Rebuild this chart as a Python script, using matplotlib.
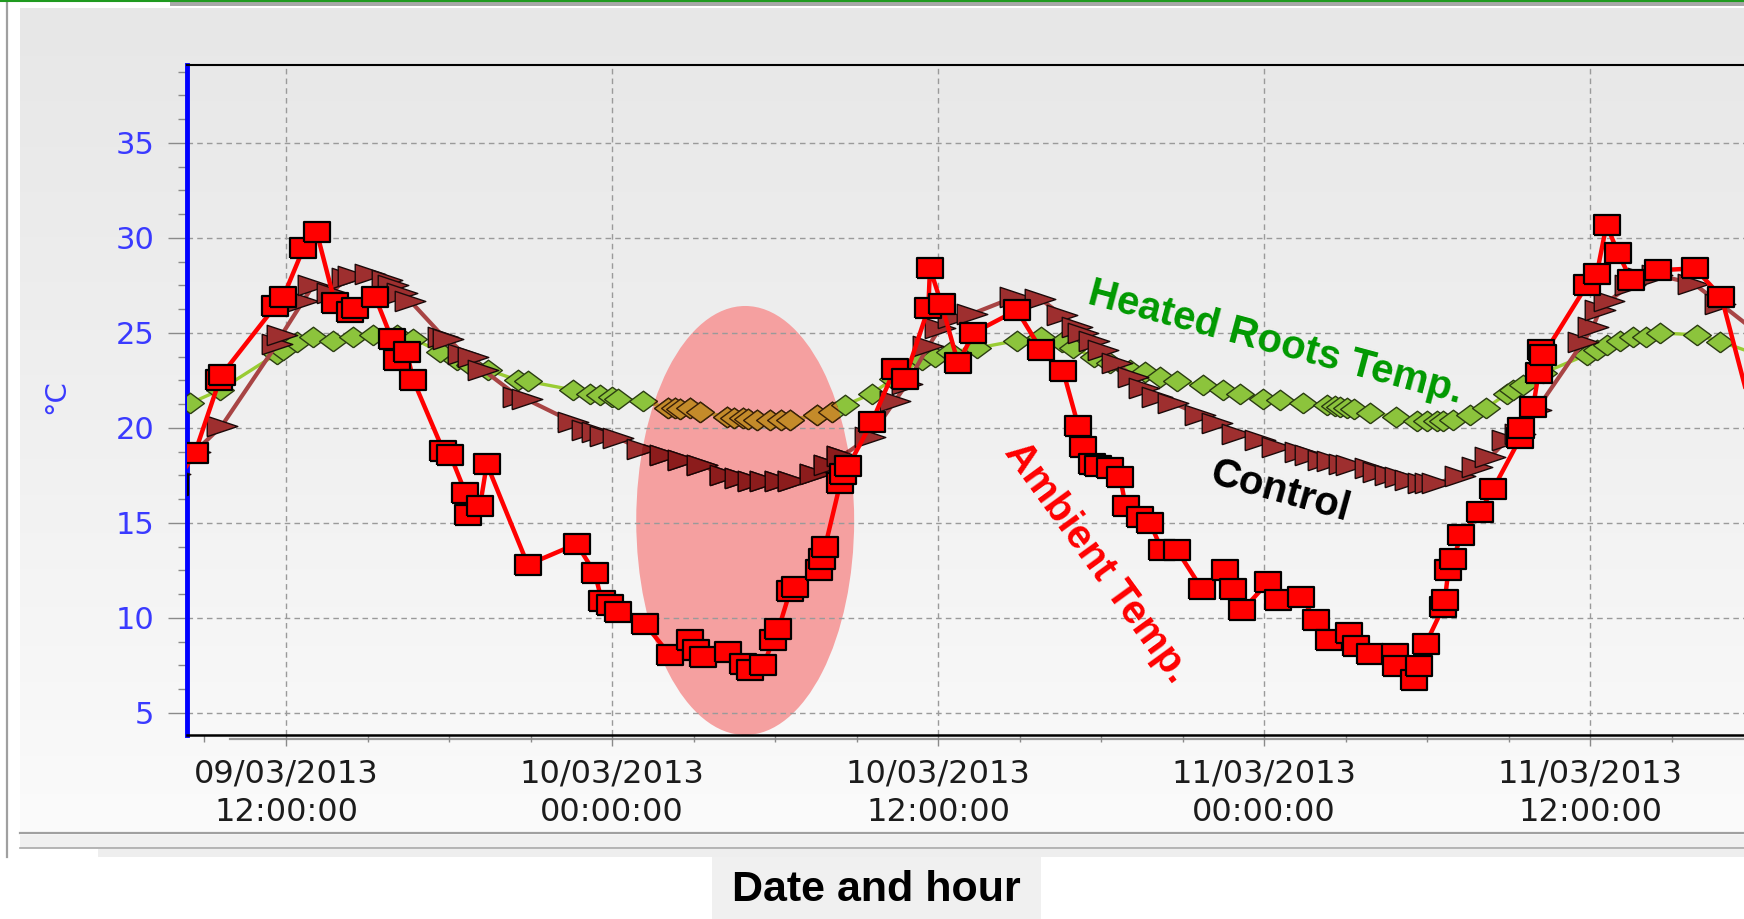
import numpy as np
import matplotlib
matplotlib.use("Agg")
import matplotlib.pyplot as plt
import matplotlib.dates as mdates
from matplotlib.patches import Ellipse, Rectangle
from matplotlib.ticker import MultipleLocator
from matplotlib.lines import Line2D
from matplotlib.colors import LinearSegmentedColormap
from matplotlib import font_manager

# ---------------- data (hours after 09/03/2013 12:00:00, °C) ----------------
amb_hours = [-4.1, -3.35, -2.45, -2.37, -0.4, -0.1, 0.64, 1.13, 1.8, 2.36, 2.54, 3.28,
             3.89, 4.07, 4.44, 4.69, 5.79, 6.04, 6.6, 6.7, 7.14, 7.39, 8.9, 10.7,
             11.37, 11.62, 11.92, 12.23, 13.2, 14.13, 14.87, 15.1, 15.36, 16.28, 16.83,
             17.08, 17.57, 17.93, 18.12, 18.55, 18.73, 19.6, 19.71, 19.84, 20.4, 20.5,
             20.7, 21.56, 22.4, 22.78, 23.64, 23.7, 24.13, 24.74, 25.3, 26.9, 27.8,
             28.6, 29.16, 29.35, 29.65, 29.9, 30.33, 30.7, 30.9, 31.43, 31.8, 32.23,
             32.78, 33.7, 34.57, 34.87, 35.2, 36.15, 36.5, 37.36, 37.9, 38.4, 39.14,
             39.38, 39.9, 40.8, 40.87, 41.5, 41.7, 41.95, 42.6, 42.65, 42.78, 42.95,
             43.26, 43.94, 44.43, 45.42, 45.47, 45.9, 46.1, 46.2, 46.28, 47.87, 48.24,
             48.6, 49.03, 49.5, 50.5, 51.85, 52.83, 55.2]
amb_temp = [17.0, 18.7, 22.5, 22.8, 26.4, 26.9, 29.45, 30.3, 26.6, 26.1, 26.3, 26.9,
            24.7, 23.6, 24.0, 22.5, 18.8, 18.6, 16.6, 15.4, 15.9, 18.1, 12.8, 13.9,
            12.35, 10.9, 10.7, 10.3, 9.7, 8.05, 8.85, 8.3, 7.96, 8.2, 7.6,
            7.26, 7.5, 8.85, 9.4, 11.4, 11.65, 12.5, 13.1, 13.75, 17.1, 17.6,
            18.0, 20.3, 23.1, 22.6, 26.3, 28.4, 26.5, 23.4, 25.0, 26.2, 24.1,
            23.0, 20.1, 19.0, 18.1, 18.0, 17.9, 17.4, 15.9, 15.3, 15.0, 13.6,
            13.6, 11.55, 12.5, 11.5, 10.4, 11.9, 10.95, 11.1, 9.9, 8.85, 9.2,
            8.5, 8.1, 8.1, 7.45, 6.75, 7.45, 8.65, 10.6, 10.95, 12.5, 13.1,
            14.35, 15.6, 16.8, 19.45, 20.0, 21.1, 22.9, 24.1, 23.85, 27.5, 28.1,
            30.7, 29.2, 27.8, 28.3, 28.4, 26.9, 14.0]

ctl_hours = [-4.1, -3.35, -2.37, -0.34, -0.16, 0.64, 1.0, 1.68, 2.23, 2.48, 3.1, 3.7,
             3.95, 4.26, 4.56, 5.79, 5.97, 6.53, 6.9, 7.26, 8.55, 8.86, 10.57, 11.07,
             11.44, 11.74, 12.23, 13.09, 13.95, 14.62, 15.3, 16.16, 16.7, 17.2, 17.63,
             18.18, 18.67, 19.47, 20.0, 20.45, 21.5, 22.4, 22.84, 23.64, 24.07, 24.56,
             25.24, 26.83, 27.75, 28.55, 29.1, 29.35, 29.72, 30.08, 30.57, 31.19,
             31.56, 32.05, 32.66, 33.64, 34.25, 34.99, 35.85, 36.46, 37.32, 37.7,
             38.18, 38.5, 38.92, 39.2, 39.9, 40.2, 40.63, 41.0, 41.37, 41.86, 42.1,
             42.35, 43.2, 43.82, 44.31, 44.92, 45.4, 46.02, 47.75, 48.1, 48.35, 48.7,
             49.45, 49.96, 50.45, 51.8, 52.78, 55.5]
ctl_temp = [17.6, 18.75, 20.1, 24.4, 24.9, 26.7, 27.5, 27.1, 27.9, 28.0, 28.1, 27.8,
            27.5, 27.1, 26.7, 24.8, 24.7, 23.9, 23.75, 23.05, 21.65, 21.5, 20.3, 19.9,
            19.8, 19.6, 19.45, 18.9, 18.6, 18.3, 18.05, 17.5, 17.35, 17.2, 17.2,
            17.2, 17.2, 17.6, 18.05, 18.5, 19.55, 21.4, 22.3, 24.3, 25.25, 25.8,
            26.0, 26.9, 26.8, 25.95, 25.3, 25.0, 24.6, 24.1, 23.4, 22.7,
            22.1, 21.65, 21.3, 20.7, 20.25, 19.7, 19.35, 19.0, 18.75, 18.6,
            18.3, 18.25, 18.1, 18.05, 17.9, 17.7, 17.5, 17.4, 17.25, 17.1, 17.1,
            17.1, 17.45, 17.95, 18.45, 19.35, 19.7, 20.95, 24.55, 25.3, 26.2, 26.7,
            27.5, 27.9, 28.05, 27.6, 26.55, 23.5]

hot_hours = [-3.53, -2.43, -0.34, -0.1, 0.39, 1.0, 1.74, 2.48, 3.21, 4.07, 4.69, 5.67,
             6.28, 6.77, 7.45, 8.55, 8.92, 10.57, 11.19, 11.56, 11.99, 12.23, 13.15,
             14.07, 14.3, 14.5, 14.87, 15.24, 16.22, 16.5, 16.83, 17.0, 17.32, 17.81,
             18.2, 18.55, 19.53, 20.08, 20.57, 21.56, 22.35, 23.4, 23.89, 24.44, 25.42,
             26.9, 27.8, 28.55, 28.98, 29.72, 30.33, 31.06, 31.62, 32.17, 32.78, 33.75,
             34.5, 35.11, 35.97, 36.58, 37.44, 38.3, 38.6, 38.8, 39.04, 39.3, 39.9,
             40.87, 41.61, 42.0, 42.35, 42.6, 42.95, 43.57, 44.18, 44.92, 45.17, 45.54,
             46.28, 47.87, 48.24, 48.6, 49.09, 49.58, 50.07, 50.57, 51.92, 52.78, 55.5]
hot_temp = [21.3, 22.0, 23.9, 24.1, 24.55, 24.8, 24.6, 24.8, 24.9, 24.9, 24.7, 24.0,
            23.6, 23.3, 23.05, 22.5, 22.45, 22.0, 21.8, 21.75, 21.65, 21.55, 21.4,
            21.05, 21.05, 21.0, 21.05, 20.85, 20.6, 20.55, 20.5, 20.45, 20.4, 20.4,
            20.4, 20.4, 20.7, 20.85, 21.2, 21.8, 22.6, 23.6, 23.75, 24.0, 24.2,
            24.6, 24.8, 24.55, 24.2, 23.75, 23.4, 23.05, 22.95, 22.7, 22.45, 22.25,
            22.0, 21.8, 21.55, 21.45, 21.3, 21.2, 21.15, 21.1, 21.05, 21.0, 20.8,
            20.6, 20.35, 20.35, 20.35, 20.35, 20.4, 20.7, 21.05, 21.8, 22.0, 22.25,
            22.9, 23.85, 24.1, 24.35, 24.6, 24.8, 24.8, 25.0, 24.9, 24.55, 23.2]

y_ticks = [5, 10, 15, 20, 25, 30, 35]
series_labels = ["Heated Roots Temp.", "Control", "Ambient Temp."]
x_title = "Date and hour"
y_title = "°C"

# ---------------- helpers ----------------
W, H, DPI = 1744, 919, 100
BASE = np.datetime64("2013-03-09T12:00")


def to_dt(hours):
    return BASE + np.round(np.asarray(hours, dtype=float) * 3600).astype("timedelta64[s]")


def fx(x):
    return x / W


def fy(y):
    return 1 - y / H


fig = plt.figure(figsize=(W / DPI, H / DPI), dpi=DPI)
fig.patch.set_facecolor("white")

# panel gradient background
bg = fig.add_axes([fx(20), fy(833), fx(1744) - fx(20), fy(8) - fy(833)], zorder=0)
cmap = LinearSegmentedColormap.from_list("g", ["#e7e7e7", "#f0f0f0", "#fbfbfb"])
bg.imshow(np.linspace(0, 1, 256).reshape(-1, 1), aspect="auto", cmap=cmap,
          extent=[0, 1, 0, 1], origin="upper")
bg.axis("off")

ax = fig.add_axes([fx(187), fy(735), 1 - fx(187), fy(64.5) - fy(735)], zorder=2)
ax.set_facecolor("none")

# marker shapes (wide, as in the reference)
sq = [(-1.35, -1), (1.35, -1), (1.35, 1), (-1.35, 1), (-1.35, -1)]
tri = [(-1.5, -1), (1.5, 0), (-1.5, 1), (-1.5, -1)]
dia = [(0, -0.74), (1, 0), (0, 0.74), (-1, 0), (0, -0.74)]

# highlight ellipse
ell = Ellipse((mdates.date2num(to_dt(16.9)), 15.13), width=8.02 / 24, height=22.58,
              facecolor="#f5a0a0", edgecolor="none", zorder=1)
ax.add_patch(ell)

hx, cx, axh = to_dt(hot_hours), to_dt(ctl_hours), to_dt(amb_hours)

ax.plot(hx, hot_temp, color="#99cc33", lw=2.4, marker=dia, ms=20,
        mfc="#8cc43c", mec="#2b3d12", mew=1.0, zorder=3)
l2, = ax.plot(hx, hot_temp, color="#c28a30", lw=2.4, marker=dia, ms=20,
              mfc="#c48b2a", mec="#3a2008", mew=1.0, zorder=3.1)
l2.set_clip_path(ell)

ax.plot(cx, ctl_temp, color="#a84444", lw=3.0, marker=tri, ms=22,
        mfc="#9e2f2f", mec="#1a0a0a", mew=1.0, zorder=4)
l3, = ax.plot(cx, ctl_temp, color="#8a2020", lw=3.0, marker=tri, ms=22,
              mfc="#8c1c1c", mec="#1a0505", mew=1.0, zorder=4.1)
l3.set_clip_path(ell)

ax.plot(axh, amb_temp, color="#ff0000", lw=3.2, marker=sq, ms=19,
        mfc="#ff0000", mec="#000000", mew=1.6, zorder=5)

# axes limits / ticks
ax.set_xlim(mdates.date2num(to_dt(-3.644)), mdates.date2num(to_dt(53.66)))
ax.set_ylim(3.84, 39.13)
ax.set_yticks(y_ticks)
ax.yaxis.set_minor_locator(MultipleLocator(1.25))
ax.xaxis.set_major_locator(mdates.HourLocator(byhour=[0, 12]))
ax.xaxis.set_minor_locator(mdates.HourLocator(byhour=list(range(0, 24, 3))))
ax.xaxis.set_major_formatter(mdates.DateFormatter("%d/%m/%Y\n%H:%M:%S"))

ax.tick_params(axis="y", which="major", length=13.5, width=1, color="#8a8a8a",
               pad=10, labelsize=22, labelcolor="#3a3aff")
ax.tick_params(axis="y", which="minor", length=6.5, width=1, color="#8a8a8a")
ax.tick_params(axis="x", which="major", length=8, width=1, color="#8a8a8a",
               pad=9, labelsize=23, labelcolor="#1c1c1c")
ax.tick_params(axis="x", which="minor", length=5, width=1, color="#8a8a8a")
for lab in ax.get_xticklabels():
    lab.set_multialignment("center")
    lab.set_linespacing(1.3)

ax.grid(which="major", color="#9a9a9a", linestyle=(0, (4, 3)), linewidth=1.0)

ax.spines["right"].set_visible(False)
ax.spines["left"].set_color("#0000ff")
ax.spines["left"].set_linewidth(3.5)
ax.spines["top"].set_color("black")
ax.spines["top"].set_linewidth(1.5)
ax.spines["bottom"].set_color("black")
ax.spines["bottom"].set_linewidth(1.8)
# grey shadow line under the x axis
fig.add_artist(Line2D([fx(230), 1], [fy(739), fy(739)], color="#9a9a9a", lw=1.6, zorder=1))

fig.text(fx(56), fy(397), y_title, rotation=90, color="#3a3aff", fontsize=21,
         ha="center", va="center")

# series annotations
ann_font = "Liberation Sans"
fig.text(fx(1275), fy(343), series_labels[0], color="#009900", fontsize=29,
         fontweight="bold", family=ann_font, rotation=-15, rotation_mode="anchor",
         ha="center", va="center", zorder=10)
fig.text(fx(1280), fy(492), series_labels[1], color="black", fontsize=29,
         fontweight="bold", family=ann_font, rotation=-15.5, rotation_mode="anchor",
         ha="center", va="center", zorder=10)
fig.text(fx(1097), fy(562), series_labels[2], color="#ff0000", fontsize=29,
         fontweight="bold", family=ann_font, rotation=-54, rotation_mode="anchor",
         ha="center", va="center", zorder=10)

# window frame decorations
fig.add_artist(Line2D([fx(7), fx(7)], [fy(0), fy(857)], color="#a0a0a0", lw=1.6))
fig.add_artist(Line2D([0, 1], [fy(1), fy(1)], color="#1f9a1f", lw=1.5))
fig.add_artist(Rectangle((fx(170), fy(6)), 1 - fx(170), fy(2) - fy(6),
                         color="#a8a8a8", lw=0))
fig.add_artist(Line2D([fx(20), 1], [fy(833), fy(833)], color="#a0a0a0", lw=1.6))
fig.add_artist(Rectangle((fx(20), fy(848)), 1 - fx(20), fy(835) - fy(848),
                         color="#f0f0f0", lw=0))
fig.add_artist(Line2D([fx(20), 1], [fy(848), fy(848)], color="#a8a8a8", lw=1.2))
fig.add_artist(Rectangle((fx(98), fy(857)), 1 - fx(98), fy(849) - fy(857),
                         color="#eeeeee", lw=0))
fig.add_artist(Rectangle((fx(712), fy(919)), fx(1041) - fx(712), fy(857) - fy(919),
                         color="#f0f0f0", lw=0))

names = {f.name for f in font_manager.fontManager.ttflist}
if "Liberation Sans Narrow" in names:
    fig.text(fx(876), fy(890), x_title, fontsize=34, fontweight="bold",
             family="Liberation Sans Narrow", ha="center", va="center")
else:
    fig.text(fx(876), fy(890), x_title, fontsize=31, fontweight="bold",
             family="Liberation Sans", ha="center", va="center")

fig.savefig("out.png", dpi=DPI)
